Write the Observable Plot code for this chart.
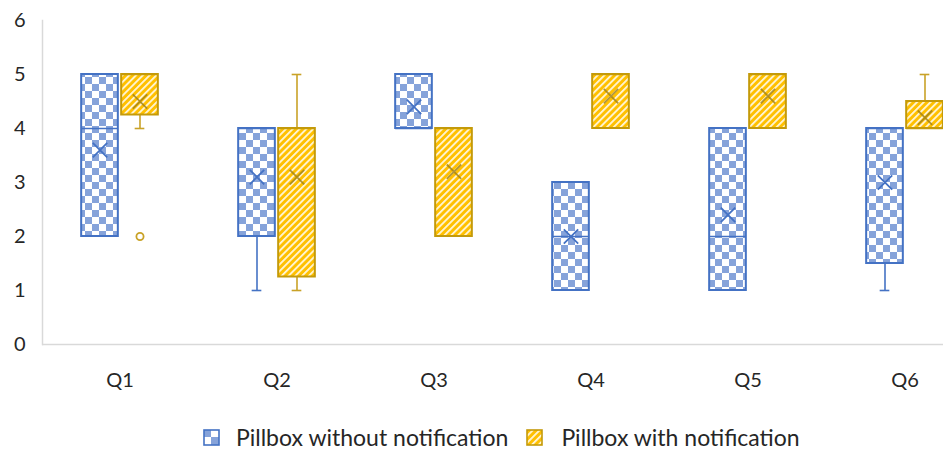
<!DOCTYPE html>
<html>
<head>
<meta charset="utf-8">
<script src="https://cdn.jsdelivr.net/npm/d3@7"></script>
<script src="https://cdn.jsdelivr.net/npm/@observablehq/plot@0.6"></script>
<style>
  html, body { margin: 0; padding: 0; background: #fff; }
  body { width: 943px; font-family: Lato, "Open Sans", sans-serif; }
  #chart svg { display: block; }
  .legend { display: flex; align-items: center; height: 24px; line-height: 24px; margin-top: 25px; padding-left: 203px;
            font-family: Lato, sans-serif; font-size: 23px; color: #262626; white-space: nowrap; }
  .legend .item { display: flex; align-items: center; }
  .legend svg { display: block; }
</style>
</head>
<body>
<div id="chart"></div>
<div class="legend" id="legend"></div>
<script>
const categories = ["Q1", "Q2", "Q3", "Q4", "Q5", "Q6"];
const seriesNames = ["Pillbox without notification", "Pillbox with notification"];
const yTicks = [0, 1, 2, 3, 4, 5, 6];

const noNotifMin    = [2, 1, 4, 1, 1, 1];
const noNotifQ1     = [2, 2, 4, 1, 1, 1.5];
const noNotifMedian = [4, 4, 4, 2, 2, 4];
const noNotifQ3     = [5, 4, 5, 3, 4, 4];
const noNotifMax    = [5, 4, 5, 3, 4, 4];
const noNotifMean   = [3.6, 3.1, 4.4, 2.0, 2.4, 3.0];

const notifMin    = [4, 1, 2, 4, 4, 4];
const notifQ1     = [4.25, 1.25, 2, 4, 4, 4];
const notifMedian = [5, 4, 4, 5, 5, 4];
const notifQ3     = [5, 4, 4, 5, 5, 4.5];
const notifMax    = [5, 5, 4, 5, 5, 5];
const notifMean   = [4.5, 3.1, 3.2, 4.6, 4.6, 4.2];
const notifOutlierCats = ["Q1"];
const notifOutlierValues = [2];

function rowsOf(mins, q1s, meds, q3s, maxs, means) {
  return categories.map((cat, i) => ({cat, min: mins[i], q1: q1s[i], median: meds[i], q3: q3s[i], max: maxs[i], mean: means[i]}));
}
const blueRows = rowsOf(noNotifMin, noNotifQ1, noNotifMedian, noNotifQ3, noNotifMax, noNotifMean);
const goldRows = rowsOf(notifMin, notifQ1, notifMedian, notifQ3, notifMax, notifMean);
const goldOutliers = notifOutlierCats.map((cat, i) => ({cat, value: notifOutlierValues[i]}));

const W = 943, H = 400;
const xRange = [40, 984];
const bw = (xRange[1] - xRange[0]) / categories.length;
const boxW = 37, capW = 10, off = 20;
const boxInset = (bw - boxW) / 2, capInset = (bw - capW) / 2;

function boxMarks(rows, dx, s) {
  return [
    Plot.ruleX(rows.filter(d => d.min < d.q1), {x: "cat", y1: "min", y2: "q1", dx, stroke: s.whisker, strokeWidth: 1.6}),
    Plot.ruleX(rows.filter(d => d.max > d.q3), {x: "cat", y1: "q3", y2: "max", dx, stroke: s.whisker, strokeWidth: 1.6}),
    Plot.tickY(rows.filter(d => d.min < d.q1), {x: "cat", y: "min", dx, insetLeft: capInset, insetRight: capInset, stroke: s.whisker, strokeWidth: 1.6}),
    Plot.tickY(rows.filter(d => d.max > d.q3), {x: "cat", y: "max", dx, insetLeft: capInset, insetRight: capInset, stroke: s.whisker, strokeWidth: 1.6}),
    Plot.rect(rows, {x: "cat", y1: "q1", y2: "q3", dx, insetLeft: boxInset, insetRight: boxInset, fill: s.fill, stroke: s.stroke, strokeWidth: 2}),
    Plot.tickY(rows, {x: "cat", y: "median", dx, insetLeft: boxInset, insetRight: boxInset, stroke: s.stroke, strokeWidth: 1.6}),
    Plot.dot(rows, {x: "cat", y: "mean", dx, symbol: "times", r: 6.6, stroke: s.mean, strokeWidth: 1.8, strokeOpacity: s.meanOpacity})
  ];
}

const blueStyle = {fill: "url(#checker)", stroke: "#4472C4", whisker: "#4472C4", mean: "#4472C4", meanOpacity: 1};
const goldStyle = {fill: "url(#stripes)", stroke: "#C49A0A", whisker: "#C9A227", mean: "#9C7E16", meanOpacity: 0.8};

const chart = Plot.plot({
  width: W,
  height: H,
  marginLeft: 42,
  marginRight: 0,
  marginTop: 20,
  marginBottom: 56,
  style: {fontFamily: "Lato, sans-serif", fontSize: "20px", color: "#262626", background: "#fff"},
  x: {type: "band", domain: categories, range: xRange, padding: 0},
  y: {domain: [0, 6], ticks: yTicks},
  marks: [
    Plot.frame({anchor: "left", stroke: "#d9d9d9", strokeWidth: 1.5}),
    Plot.ruleY([0], {stroke: "#d9d9d9", strokeWidth: 1.5}),
    Plot.axisY({ticks: yTicks, tickSize: 0, tickPadding: 17, fontSize: 20, label: null, tickFormat: d3.format("d")}),
    Plot.axisX({tickSize: 0, tickPadding: 28, fontSize: 20, label: null}),
    ...boxMarks(blueRows, -off, blueStyle),
    ...boxMarks(goldRows, off, goldStyle),
    Plot.dot(goldOutliers, {x: "cat", y: "value", dx: off, r: 3.6, fill: "#fff", stroke: "#C9A227", strokeWidth: 1.8})
  ]
});

const defsHTML = `
<defs>
  <pattern id="checker" patternUnits="userSpaceOnUse" width="14" height="14">
    <rect width="14" height="14" fill="#ffffff"/>
    <rect x="0" y="0" width="7" height="7" fill="#86A3DA"/>
    <rect x="7" y="7" width="7" height="7" fill="#86A3DA"/>
  </pattern>
  <pattern id="stripes" patternUnits="userSpaceOnUse" width="4.8" height="4.8" patternTransform="rotate(45)">
    <rect width="4.8" height="4.8" fill="#FFC000"/>
    <rect x="0" y="0" width="1.8" height="4.8" fill="#FFF6DA"/>
  </pattern>
  <pattern id="checkerL" patternUnits="userSpaceOnUse" width="16" height="16">
    <rect width="16" height="16" fill="#ffffff"/>
    <rect x="0" y="0" width="8" height="8" fill="#86A3DA"/>
    <rect x="8" y="8" width="8" height="8" fill="#86A3DA"/>
  </pattern>
</defs>`;
chart.insertAdjacentHTML("afterbegin", defsHTML);
document.getElementById("chart").appendChild(chart);

const legend = document.getElementById("legend");
const swatchFills = ["url(#checkerL)", "url(#stripes)"];
const swatchStrokes = ["#4472C4", "#C49A0A"];
const gapsAfter = [18, 0];
const swatchGaps = [16, 18];
seriesNames.forEach((name, i) => {
  const item = document.createElement("div");
  item.className = "item";
  item.style.marginRight = gapsAfter[i] + "px";
  item.innerHTML = `<svg width="17" height="17" style="margin-right:${swatchGaps[i]}px"><rect x="1" y="1" width="15" height="15" fill="${swatchFills[i]}" stroke="${swatchStrokes[i]}" stroke-width="1.6"/></svg><span>${name}</span>`;
  legend.appendChild(item);
});
</script>
</body>
</html>
